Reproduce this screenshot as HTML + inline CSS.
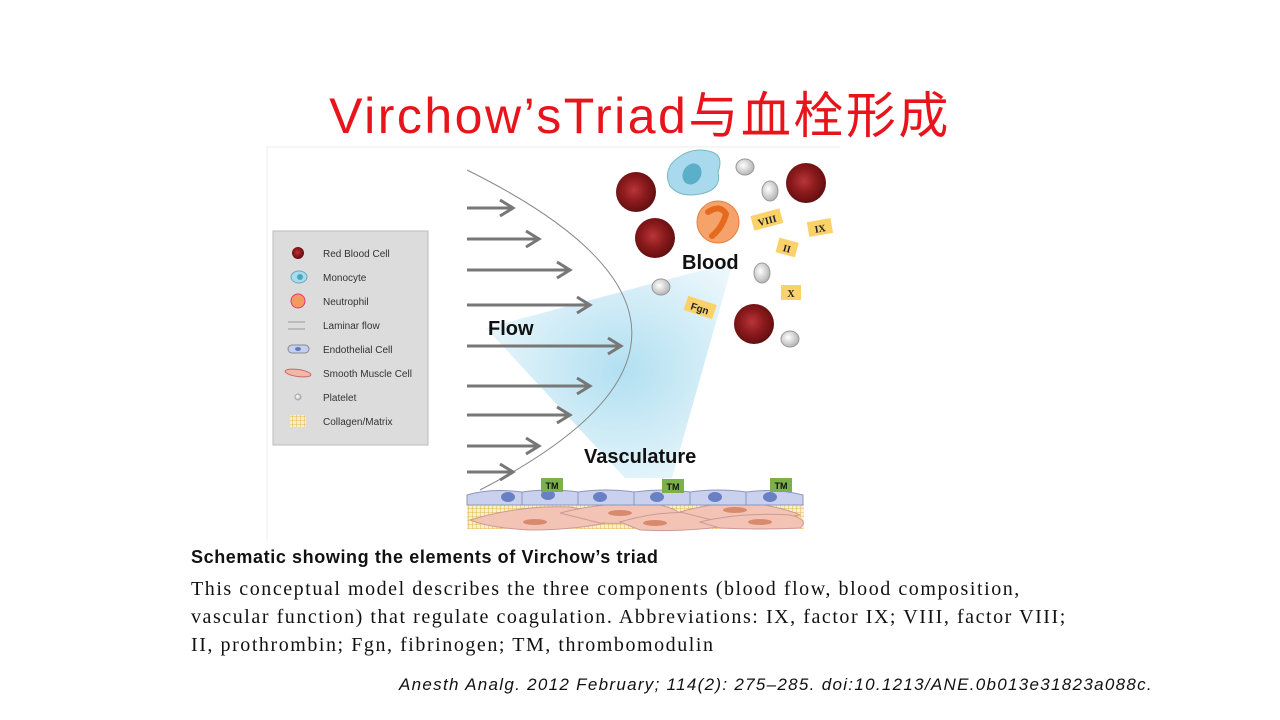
<!DOCTYPE html>
<html><head><meta charset="utf-8"><style>
body{margin:0;width:1280px;height:720px;background:#fff;overflow:hidden;position:relative;font-family:"Liberation Sans","Noto Sans CJK SC",sans-serif}
.t{position:absolute;white-space:nowrap}
</style></head><body>
<div class="t" style="left:0;width:1280px;text-align:center;top:76px;font-size:50px;color:#e8141c;letter-spacing:2.5px">Virchow’sTriad与血栓形成</div>
<svg width="1280" height="720" style="position:absolute;left:0;top:0" font-family="Liberation Sans, sans-serif">
<defs>
<radialGradient id="bl" cx="0.55" cy="0.5" r="0.6"><stop offset="0" stop-color="#a9dcf0"/><stop offset="1" stop-color="#e9f6fb"/></radialGradient>
<radialGradient id="rb" cx="0.45" cy="0.45" r="0.6"><stop offset="0" stop-color="#b8353a"/><stop offset="0.5" stop-color="#8b1a1c"/><stop offset="1" stop-color="#5c0d0e"/></radialGradient>
<radialGradient id="pl" cx="0.4" cy="0.4" r="0.7"><stop offset="0" stop-color="#fff"/><stop offset="1" stop-color="#aaa"/></radialGradient>
<pattern id="col" width="4" height="4" patternUnits="userSpaceOnUse"><rect width="4" height="4" fill="#fbefc8"/><path d="M0 0H4M0 0V4" stroke="#e0a83a" stroke-width="0.8"/></pattern>
</defs>
<line x1="266" y1="147" x2="840" y2="147" stroke="#eee"/>
<line x1="267" y1="147" x2="267" y2="540" stroke="#eee"/>
<polygon points="733,262 486,328 625,478 672,478" fill="url(#bl)" opacity="0.9"/>
<path d="M467,170 Q790,330 480,490" fill="none" stroke="#888" stroke-width="1"/>
<g stroke="#777" stroke-width="3" fill="none">
<path d="M467,208H512M500,200L513,208L500,216"/>
<path d="M467,239H538M526,231L539,239L526,247"/>
<path d="M467,270H569M557,262L570,270L557,278"/>
<path d="M467,305H589M577,297L590,305L577,313"/>
<path d="M467,346H620M608,338L621,346L608,354"/>
<path d="M467,386H589M577,378L590,386L577,394"/>
<path d="M467,415H569M557,407L570,415L557,423"/>
<path d="M467,446H538M526,438L539,446L526,454"/>
<path d="M467,472H512M500,464L513,472L500,480"/>
</g>
<text x="488" y="335" font-size="20" font-weight="bold" fill="#111">Flow</text>
<text x="682" y="269" font-size="20" font-weight="bold" fill="#111">Blood</text>
<text x="584" y="463" font-size="20" font-weight="bold" fill="#111">Vasculature</text>
<rect x="273" y="231" width="155" height="214" fill="#dcdcdc" stroke="#bbb"/>
<g font-size="10" fill="#333">
<circle cx="298" cy="253" r="6" fill="url(#rb)"/><text x="323" y="257">Red Blood Cell</text>
<ellipse cx="299" cy="277" rx="8" ry="6" fill="#a9dbee" stroke="#6ab"/><ellipse cx="300" cy="277" rx="3" ry="3" fill="#4aa5c0"/><text x="323" y="281">Monocyte</text>
<circle cx="298" cy="301" r="7" fill="#f39a5e" stroke="#e37"/><text x="323" y="305">Neutrophil</text>
<path d="M288,322H305M288,329H305" stroke="#999"/><text x="323" y="329">Laminar flow</text>
<rect x="288" y="345" width="21" height="8" rx="4" fill="#c5cfee" stroke="#889"/><ellipse cx="298" cy="349" rx="3" ry="2" fill="#6177c0"/><text x="323" y="353">Endothelial Cell</text>
<ellipse cx="298" cy="373" rx="13" ry="3.5" fill="#f0b8a8" stroke="#c66" transform="rotate(8 298 373)"/><text x="323" y="377">Smooth Muscle Cell</text>
<circle cx="298" cy="397" r="3" fill="url(#pl)" stroke="#aaa"/><text x="323" y="401">Platelet</text>
<rect x="290" y="415" width="16" height="12" fill="url(#col)"/><text x="323" y="425">Collagen/Matrix</text>
</g>
<circle cx="636" cy="192" r="20" fill="url(#rb)"/>
<circle cx="655" cy="238" r="20" fill="url(#rb)"/>
<circle cx="806" cy="183" r="20" fill="url(#rb)"/>
<circle cx="754" cy="324" r="20" fill="url(#rb)"/>
<path d="M672,163 Q690,145 712,152 Q724,156 718,172 Q722,190 700,194 Q680,198 670,186 Q664,174 672,163Z" fill="#a9d9ec" stroke="#7bb"/>
<ellipse cx="692" cy="174" rx="9" ry="11" fill="#5ab0c8" transform="rotate(30 692 174)"/>
<circle cx="718" cy="222" r="21" fill="#f5a36a" stroke="#e58040"/>
<path d="M708,212 Q720,204 726,214 Q722,228 712,236" fill="none" stroke="#e66a1e" stroke-width="6" stroke-linecap="round"/>
<g fill="url(#pl)" stroke="#999">
<ellipse cx="745" cy="167" rx="9" ry="8"/><ellipse cx="770" cy="191" rx="8" ry="10"/>
<ellipse cx="762" cy="273" rx="8" ry="10"/><ellipse cx="661" cy="287" rx="9" ry="8"/>
<ellipse cx="790" cy="339" rx="9" ry="8"/>
</g>
<g font-family="Liberation Serif, serif" font-size="10" font-weight="bold" fill="#222" text-anchor="middle">
<g transform="rotate(-15 767 220)"><rect x="752" y="212" width="30" height="15" fill="#fbd26a"/><text x="767" y="224">VIII</text></g>
<g transform="rotate(-10 820 228)"><rect x="808" y="220" width="24" height="15" fill="#fbd26a"/><text x="820" y="232">IX</text></g>
<g transform="rotate(15 787 248)"><rect x="777" y="240" width="20" height="15" fill="#fbd26a"/><text x="787" y="252">II</text></g>
<rect x="781" y="285" width="20" height="15" fill="#fbd26a"/><text x="791" y="297">X</text>
<g transform="rotate(18 700 308)"><rect x="685" y="300" width="30" height="15" fill="#fbd26a"/><text x="700" y="312" font-family="Liberation Sans,sans-serif">Fgn</text></g>
</g>
<rect x="467" y="504" width="337" height="25" fill="url(#col)"/>
<g fill="#f3c4b5" stroke="#c99">
<path d="M470,520 Q520,505 570,507 Q600,512 620,520 Q580,530 530,530 Q490,528 470,520Z"/>
<path d="M560,513 Q610,500 660,505 Q680,510 680,515 Q640,525 600,523Z"/>
<path d="M620,522 Q660,510 700,513 Q720,520 720,527 Q680,532 640,530Z"/>
<path d="M680,512 Q720,500 760,504 Q790,510 800,515 Q760,522 720,522Z"/>
<path d="M700,522 Q740,512 790,515 Q810,520 800,528 Q760,530 720,528Z"/>
</g>
<g fill="#d88a6d"><ellipse cx="535" cy="522" rx="12" ry="3"/><ellipse cx="620" cy="513" rx="12" ry="3"/><ellipse cx="655" cy="523" rx="12" ry="3"/><ellipse cx="735" cy="510" rx="12" ry="3"/><ellipse cx="760" cy="522" rx="12" ry="3"/></g>
<g fill="#c9d1ee" stroke="#8c96bb">
<path d="M467,505V495Q490,488 522,492V505Z"/><path d="M522,505V492Q550,488 578,492V505Z"/><path d="M578,505V492Q606,488 634,492V505Z"/><path d="M634,505V492Q662,488 690,492V505Z"/><path d="M690,505V492Q718,488 746,492V505Z"/><path d="M746,505V492Q775,488 803,495V505Z"/>
</g>
<g fill="#6a80c4"><ellipse cx="508" cy="497" rx="7" ry="5"/><ellipse cx="548" cy="495" rx="7" ry="5"/><ellipse cx="600" cy="497" rx="7" ry="5"/><ellipse cx="657" cy="497" rx="7" ry="5"/><ellipse cx="715" cy="497" rx="7" ry="5"/><ellipse cx="770" cy="497" rx="7" ry="5"/></g>
<g font-size="9" font-weight="bold" fill="#111" text-anchor="middle">
<rect x="541" y="478" width="22" height="14" fill="#7bb04a"/><text x="552" y="489">TM</text>
<rect x="662" y="479" width="22" height="14" fill="#7bb04a"/><text x="673" y="490">TM</text>
<rect x="770" y="478" width="22" height="14" fill="#7bb04a"/><text x="781" y="489">TM</text>
</g>
</svg>
<div class="t" style="left:191px;top:547px;font-size:18px;letter-spacing:0.6px;font-weight:bold;color:#111">Schematic showing the elements of Virchow’s triad</div>
<div class="t" style="left:191px;top:575px;font-family:'Liberation Serif',serif;font-size:20px;letter-spacing:1.55px;line-height:28px;color:#111">This conceptual model describes the three components (blood flow, blood composition,<br>vascular function) that regulate coagulation. Abbreviations: IX, factor IX; VIII, factor VIII;<br>II, prothrombin; Fgn, fibrinogen; TM, thrombomodulin</div>
<div class="t" style="left:399px;top:675px;font-size:17px;letter-spacing:1.3px;font-style:italic;color:#111">Anesth Analg. 2012 February; 114(2): 275–285. doi:10.1213/ANE.0b013e31823a088c.</div>
</body></html>
